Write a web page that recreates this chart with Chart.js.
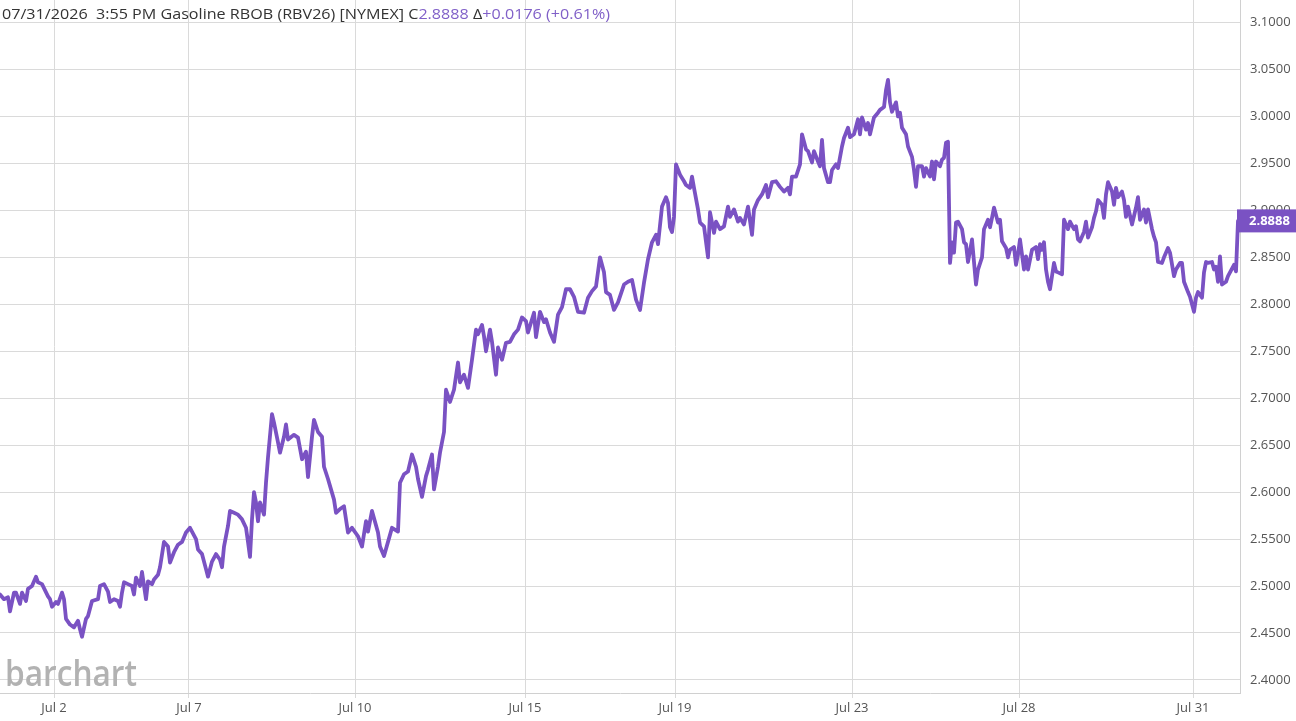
<!DOCTYPE html>
<html><head><meta charset="utf-8">
<script src="https://cdn.jsdelivr.net/npm/chart.js@4.4.1/dist/chart.umd.min.js"></script>
<style>html,body{margin:0;padding:0;background:#fff;overflow:hidden}#wrap{width:1296px;height:721px;position:relative}</style>
</head><body><div id="wrap"><canvas id="c"></canvas></div>
<script>
// x axis: bar number (session bars), date labels placed at session boundaries
const tickBars = [27, 94.5, 177.5, 262.5, 337.5, 426, 509.5, 596.5];
const tickLabels = ['Jul 2', 'Jul 7', 'Jul 10', 'Jul 15', 'Jul 19', 'Jul 23', 'Jul 28', 'Jul 31'];
const yTicks = [2.40, 2.45, 2.50, 2.55, 2.60, 2.65, 2.70, 2.75, 2.80, 2.85, 2.90, 2.95, 3.00, 3.05, 3.10];
const yMin = 2.3861, yMax = 3.124, barMax = 620;
const lastPrice = 2.8888;
const changeText = '+0.0176 (+0.61%)';
const titleText = '07/31/2026  3:55 PM Gasoline RBOB (RBV26) [NYMEX] C';

// [bar, price]
const pricesJul1to9 = [[0,2.491],[2,2.486],[4,2.488],[5,2.473],[7,2.493],[8,2.493],[10,2.481],[11,2.493],[13,2.484],[14,2.497],[16,2.500],[18,2.510],[19,2.504],[21,2.502],[24,2.489],[25,2.486],[26,2.478],[28,2.483],[29,2.481],[31,2.493],[32,2.486],[33,2.465],[35,2.459],[37,2.456],[39,2.463],[40,2.454],[41,2.446],[43,2.465],[44,2.468],[46,2.484],[49,2.486],[50,2.500],[52,2.502],[54,2.494],[55,2.483],[57,2.486],[59,2.484],[60,2.478],[61,2.493],[62,2.504],[64,2.502],[66,2.500],[67,2.491],[68,2.509],[70,2.500],[71,2.515],[73,2.486],[74,2.505],[76,2.502],[77,2.507],[79,2.512],[80,2.520],[82,2.547],[84,2.542],[85,2.525],[87,2.536],[89,2.544],[91,2.547],[93,2.557],[95,2.562],[96,2.558],[98,2.550],[99,2.539],[101,2.534],[103,2.518],[104,2.510],[106,2.526],[108,2.534],[110,2.528],[111,2.520],[112,2.542],[114,2.564],[115,2.580],[117,2.578],[119,2.576],[121,2.571],[123,2.562],[124,2.547],[125,2.531],[126,2.571],[127,2.600],[128,2.589],[129,2.569],[130,2.589],[132,2.576],[133,2.610],[134,2.637],[136,2.683],[137,2.674],[139,2.653],[140,2.642],[142,2.659],[143,2.672],[144,2.656],[147,2.661],[149,2.658],[151,2.635],[153,2.643],[154,2.616],[156,2.659],[157,2.677],[159,2.664],[161,2.659],[162,2.627],[164,2.614]];
const pricesJul9to19 = [[167,2.592],[168,2.578],[170,2.582],[172,2.585],[174,2.557],[176,2.562],[179,2.553],[181,2.542],[183,2.569],[184,2.558],[186,2.580],[189,2.557],[190,2.542],[192,2.532],[194,2.547],[196,2.562],[199,2.558],[200,2.610],[202,2.619],[204,2.622],[206,2.640],[208,2.627],[209,2.614],[211,2.595],[213,2.617],[214,2.624],[216,2.640],[217,2.603],[219,2.627],[220,2.642],[222,2.664],[223,2.709],[225,2.696],[227,2.709],[229,2.738],[230,2.717],[232,2.725],[234,2.711],[236,2.741],[238,2.773],[239,2.768],[241,2.778],[242,2.766],[243,2.750],[245,2.773],[246,2.760],[248,2.725],[249,2.754],[251,2.741],[253,2.759],[255,2.760],[257,2.768],[259,2.773],[261,2.786],[263,2.782],[264,2.770],[267,2.791],[268,2.765],[270,2.792],[272,2.781],[273,2.784],[275,2.770],[277,2.760],[279,2.789],[281,2.797],[283,2.816],[285,2.816],[287,2.808],[289,2.792],[292,2.791],[294,2.807],[296,2.814],[298,2.819],[300,2.850],[302,2.834],[303,2.813],[305,2.810],[307,2.794],[309,2.802],[312,2.821],[314,2.824],[316,2.826],[318,2.805],[320,2.794],[322,2.823],[324,2.848],[326,2.866],[328,2.874],[329,2.864],[331,2.904],[333,2.914],[334,2.908],[335,2.882],[336,2.877],[337,2.893]];
const pricesJul19to26 = [[338,2.949],[340,2.938],[342,2.931],[343,2.927],[345,2.924],[346,2.936],[347,2.924],[349,2.901],[350,2.887],[352,2.883],[354,2.850],[355,2.898],[357,2.876],[358,2.888],[360,2.880],[362,2.883],[364,2.904],[365,2.893],[367,2.901],[369,2.888],[370,2.892],[372,2.885],[374,2.904],[376,2.874],[377,2.901],[379,2.911],[381,2.917],[383,2.927],[384,2.914],[386,2.930],[388,2.931],[390,2.925],[392,2.920],[394,2.924],[395,2.917],[396,2.936],[398,2.936],[400,2.949],[401,2.981],[403,2.965],[404,2.963],[406,2.951],[407,2.963],[409,2.952],[410,2.947],[411,2.975],[412,2.945],[414,2.930],[415,2.930],[416,2.943],[418,2.949],[419,2.945],[421,2.968],[422,2.977],[424,2.988],[425,2.978],[427,2.981],[429,2.997],[430,2.981],[431,2.999],[433,2.986],[434,2.993],[435,2.981],[437,2.999],[439,3.004],[440,3.007],[442,3.010],[443,3.028],[444,3.039],[445,3.015],[446,3.005],[448,3.015],[449,3.000],[450,3.004],[451,2.988],[453,2.981],[454,2.968],[456,2.957],[457,2.943],[458,2.925],[459,2.947],[461,2.947],[462,2.936],[463,2.945],[465,2.936],[466,2.952],[467,2.933],[468,2.952],[470,2.947],[471,2.954],[472,2.956],[473,2.972],[474,2.973]];
const pricesJul26to31 = [[475,2.844],[476,2.866],[477,2.855],[478,2.887],[479,2.888],[481,2.880],[482,2.866],[483,2.864],[484,2.845],[486,2.869],[487,2.845],[488,2.821],[489,2.837],[491,2.850],[492,2.880],[494,2.890],[495,2.882],[496,2.892],[497,2.903],[499,2.887],[500,2.890],[501,2.867],[503,2.860],[504,2.850],[505,2.858],[507,2.861],[508,2.842],[509,2.853],[510,2.869],[512,2.837],[513,2.851],[514,2.837],[516,2.858],[518,2.861],[519,2.848],[520,2.864],[521,2.858],[522,2.866],[523,2.837],[524,2.824],[525,2.816],[527,2.844],[528,2.835],[529,2.834],[531,2.832],[532,2.890],[534,2.880],[535,2.888],[537,2.880],[538,2.883],[539,2.869],[540,2.867],[542,2.877],[543,2.888],[544,2.871],[546,2.882],[547,2.892],[548,2.899],[549,2.911],[551,2.906],[552,2.892],[553,2.917],[554,2.930],[556,2.920],[557,2.906],[558,2.924],[559,2.914],[561,2.920],[562,2.911],[563,2.893],[564,2.904],[566,2.885],[568,2.903],[569,2.914],[570,2.890],[572,2.901],[573,2.887],[574,2.901],[576,2.880],[577,2.872],[578,2.866],[579,2.845],[581,2.844],[582,2.850],[584,2.860],[585,2.855],[587,2.830],[588,2.837],[590,2.844],[591,2.844],[592,2.824],[594,2.813],[595,2.808],[597,2.792],[598,2.807],[599,2.813],[601,2.807],[602,2.834],[603,2.845],[604,2.844],[606,2.845],[607,2.837],[608,2.840],[609,2.824],[610,2.851],[611,2.821],[613,2.824],[614,2.830],[615,2.834],[617,2.842],[618,2.835],[619,2.8888]];

const series = [].concat(pricesJul1to9, pricesJul9to19, pricesJul19to26, pricesJul26to31);

const PURPLE = '#7a52c3';
const TEXT_PURPLE = '#8060c8';
const GRID = '#dadada';

const overlay = {
  id: 'overlay',
  beforeDatasetsDraw(chart) {
    const ctx = chart.ctx;
    ctx.save();
    ctx.font = '600 36px "Open Sans"';
    const w = ctx.measureText('barchart').width;
    ctx.translate(5, 686);
    ctx.scale(132 / w, 1);
    ctx.fillStyle = '#b2b2b2';
    ctx.textBaseline = 'alphabetic';
    ctx.fillText('barchart', 0, 0);
    ctx.restore();
  },
  afterDraw(chart) {
    const ctx = chart.ctx;
    const ys = chart.scales.y;
    const area = chart.chartArea;
    ctx.save();
    // header
    const parts = [[titleText, '#333333'], [lastPrice.toFixed(4), TEXT_PURPLE], [' \u0394', '#333333'], [changeText, TEXT_PURPLE]];
    ctx.font = '15px "Open Sans"';
    let total = 0;
    parts.forEach(p => total += ctx.measureText(p[0]).width);
    const sx = 608 / total;
    ctx.textBaseline = 'alphabetic';
    let x = 2;
    parts.forEach(p => {
      ctx.save();
      ctx.translate(x, 19);
      ctx.scale(sx, 1);
      ctx.fillStyle = p[1];
      ctx.fillText(p[0], 0, 0);
      ctx.restore();
      x += ctx.measureText(p[0]).width * sx;
    });
    // price box
    const py = ys.getPixelForValue(lastPrice);
    ctx.fillStyle = PURPLE;
    ctx.fillRect(area.right - 3, py - 11.5, chart.width - area.right + 3, 23);
    ctx.fillStyle = '#ffffff';
    ctx.font = 'bold 13px "Open Sans"';
    ctx.textBaseline = 'middle';
    ctx.textAlign = 'left';
    ctx.fillText(lastPrice.toFixed(4), area.right + 9, py + 0.5);
    ctx.restore();
  }
};

new Chart(document.getElementById('c'), {
  type: 'line',
  data: {
    datasets: [{
      data: series.map(([b, p]) => ({ x: b, y: p })),
      borderColor: PURPLE,
      borderWidth: 3.8,
      pointRadius: 0,
      tension: 0,
      borderJoinStyle: 'round',
      borderCapStyle: 'round',
      fill: false
    }]
  },
  options: {
    responsive: true,
    maintainAspectRatio: false,
    animation: false,
    layout: { padding: 0 },
    plugins: { legend: { display: false }, tooltip: { enabled: false } },
    scales: {
      x: {
        type: 'linear',
        min: 0, max: barMax,
        afterBuildTicks: s => { s.ticks = tickBars.map(v => ({ value: v })); },
        afterFit: s => { s.height = 28; s.paddingLeft = 0; s.paddingRight = 0; },
        ticks: {
          autoSkip: false, maxRotation: 0, padding: 2,
          callback: (v, i) => tickLabels[i],
          font: { family: 'Open Sans', size: 13 }, color: '#555555'
        },
        grid: { color: GRID, tickLength: 5 },
        border: { color: '#d0d0d0' }
      },
      y: {
        position: 'right',
        min: yMin, max: yMax,
        afterBuildTicks: s => { s.ticks = yTicks.map(v => ({ value: v })); },
        afterFit: s => { s.width = 56; s.paddingTop = 0; s.paddingBottom = 0; },
        ticks: {
          padding: 10,
          callback: v => Number(v).toFixed(4),
          font: { family: 'Open Sans', size: 13 }, color: '#555555'
        },
        grid: { color: GRID, drawTicks: false },
        border: { color: '#d0d0d0' }
      }
    }
  },
  plugins: [overlay]
});
</script></body></html>
